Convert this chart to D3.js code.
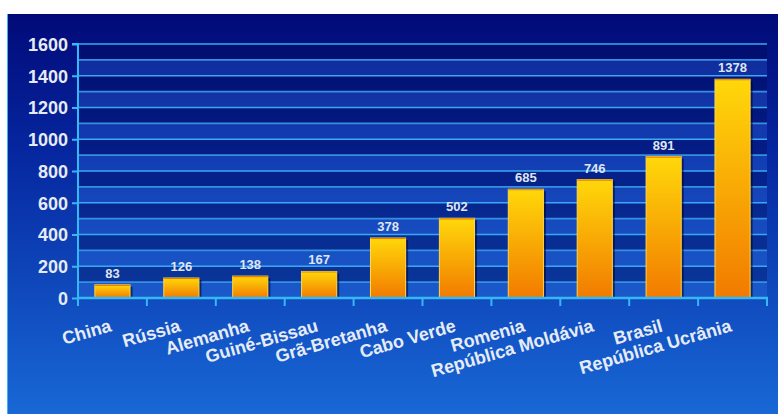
<!DOCTYPE html>
<html><head><meta charset="utf-8">
<script src="https://cdn.jsdelivr.net/npm/d3@7"></script>
<style>body{margin:0;background:#fff}svg{display:block}</style>
</head><body>
<script>
const categories = ["China","Rússia","Alemanha","Guiné-Bissau","Grã-Bretanha","Cabo Verde","Romenia","República Moldávia","Brasil","República Ucrânia"];
const values = [83,126,138,167,378,502,685,746,891,1378];
const yTicks = [0,200,400,600,800,1000,1200,1400,1600];

const W=778,H=414;
const svg=d3.select("body").append("svg").attr("width",W).attr("height",H);
const defs=svg.append("defs");
const bg=defs.append("linearGradient").attr("id","bg").attr("x1",0).attr("y1",0).attr("x2",0).attr("y2",1);
bg.append("stop").attr("offset","0%").attr("stop-color","#020a78");
bg.append("stop").attr("offset","35%").attr("stop-color","#0627a0");
bg.append("stop").attr("offset","100%").attr("stop-color","#1868d6");
const bar=defs.append("linearGradient").attr("id","bar").attr("x1",0).attr("y1",0).attr("x2",0).attr("y2",1);
bar.append("stop").attr("offset","0%").attr("stop-color","#ffd80a");
bar.append("stop").attr("offset","100%").attr("stop-color","#f27a00");

svg.append("rect").attr("x",7).attr("y",14).attr("width",W-7).attr("height",H-14).attr("fill","url(#bg)");
svg.append("line").attr("x1",7.5).attr("x2",7.5).attr("y1",14).attr("y2",H).attr("stroke","#3fb0f0").attr("stroke-width",1);

const x=d3.scaleBand().domain(categories).range([78,767]).paddingInner(0.49).paddingOuter(0.245);
const y=d3.scaleLinear().domain([0,1600]).range([298,44]);

const font="'Liberation Sans', Arial, sans-serif";
// bands
const bandVals=d3.range(0,1600,100);
svg.append("g").selectAll("rect").data(bandVals).join("rect")
  .attr("x",78).attr("width",767-78)
  .attr("y",d=>y(d+100)).attr("height",d=>y(d)-y(d+100))
  .attr("fill",d=>(d/100)%2===0?"rgba(70,150,255,0.2)":"rgba(0,8,70,0.28)");
// gridlines
svg.append("g").selectAll("line").data(d3.range(0,1700,100)).join("line")
  .attr("x1",78).attr("x2",767).attr("y1",d=>y(d)).attr("y2",d=>y(d))
  .attr("stroke",d=>d%200===0?"#3aa8f2":"#3590e0").attr("stroke-width",1.6);

// bars
const g=svg.append("g");
g.selectAll("rect.sh").data(values).join("rect").attr("class","sh")
  .attr("x",(d,i)=>x(categories[i])+2.5).attr("width",x.bandwidth())
  .attr("y",d=>y(d)+2).attr("height",d=>298-y(d)-2).attr("fill","rgba(0,0,40,0.55)");
g.selectAll("rect.b").data(values).join("rect").attr("class","b")
  .attr("x",(d,i)=>x(categories[i])).attr("width",x.bandwidth())
  .attr("y",d=>y(d)).attr("height",d=>298-y(d))
  .attr("fill","url(#bar)").attr("stroke","#ffd84a").attr("stroke-width",1);
g.selectAll("line.top").data(values).join("line").attr("class","top")
  .attr("x1",(d,i)=>x(categories[i])).attr("x2",(d,i)=>x(categories[i])+x.bandwidth())
  .attr("y1",d=>y(d)+0.5).attr("y2",d=>y(d)+0.5).attr("stroke","#e88000").attr("stroke-width",1.2);

// value labels
svg.append("g").selectAll("text").data(values).join("text")
  .attr("x",(d,i)=>x(categories[i])+x.bandwidth()/2).attr("y",d=>y(d)-7)
  .attr("text-anchor","middle").attr("font-family",font).attr("font-weight","bold")
  .attr("font-size",13).attr("fill","#dfe6f2").text(d=>d);

// y axis
const ya=svg.append("g").attr("transform","translate(78,0)")
  .call(d3.axisLeft(y).tickValues(yTicks).tickSize(6).tickPadding(4).tickFormat(d3.format("d")));
ya.select(".domain").attr("stroke","#35b8f5").attr("stroke-width",2).attr("d","M-6,44H0V300");
ya.selectAll(".tick line").attr("stroke","#35b8f5").attr("stroke-width",2);
ya.selectAll(".tick text").attr("fill","#e6ecf5").attr("font-family",font).attr("font-weight","bold").attr("font-size",18).attr("dy","0.36em");

// x axis
const xa=svg.append("g").attr("transform","translate(0,298)");
xa.append("line").attr("x1",77).attr("x2",768).attr("stroke","#35b8f5").attr("stroke-width",2.5);
const bounds=categories.map(c=>x(c)-x.step()*x.paddingInner()/2).concat([767]);
xa.selectAll("line.t").data(bounds).join("line").attr("class","t")
  .attr("x1",d=>d).attr("x2",d=>d).attr("y1",0).attr("y2",8).attr("stroke","#35b8f5").attr("stroke-width",2);

svg.append("g").selectAll("text").data(categories).join("text")
  .attr("transform",d=>`translate(${x(d)+x.bandwidth()/2},331) rotate(-16)`)
  .attr("text-anchor","end").attr("font-family",font).attr("font-weight","bold")
  .attr("font-size",18).attr("fill","#e6ecf5").text(d=>d);
</script>
</body></html>
